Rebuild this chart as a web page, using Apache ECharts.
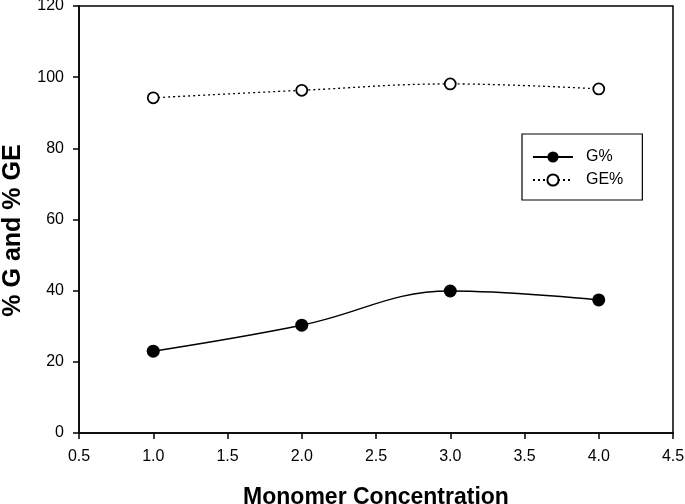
<!DOCTYPE html>
<html>
<head>
<meta charset="utf-8">
<script src="https://cdn.jsdelivr.net/npm/echarts@6/dist/echarts.min.js"></script>
<style>html,body{margin:0;padding:0;background:#fff}#c{width:685px;height:504px}</style>
</head>
<body>
<div id="c"></div>
<script>
var concentration = [1.0, 2.0, 3.0, 4.0];
var gPercent = [23.0, 30.3, 39.9, 37.4];
var gePercent = [94.2, 96.3, 98.1, 96.7];
var seriesNames = ['G%', 'GE%'];
var xAxisName = 'Monomer Concentration';
var yAxisName = '% G and % GE';

function pairs(xs, ys) { return xs.map(function (x, i) { return [x, ys[i]]; }); }

var chart = echarts.init(document.getElementById('c'), null, { renderer: 'canvas' });
var font = 'Liberation Sans, Arial, sans-serif';
chart.setOption({
  animation: false,
  backgroundColor: '#fff',
  grid: { left: 79, right: 12, top: 6, bottom: 71, show: true, borderColor: '#000', borderWidth: 1.5, backgroundColor: 'transparent', containLabel: false, outerBoundsMode: 'none' },
  legend: {
    left: 522, top: 134, orient: 'vertical',
    borderColor: '#000', borderWidth: 1.2,
    padding: [15, 19, 12, 10],
    itemWidth: 40, itemHeight: 14, itemGap: 7,
    textStyle: { fontFamily: font, fontSize: 16, color: '#000', padding: [0, 0, 0, 8] },
    data: seriesNames
  },
  xAxis: {
    type: 'value', min: 0.5, max: 4.5, interval: 0.5,
    name: xAxisName, nameLocation: 'middle', nameGap: 53,
    nameTextStyle: { fontFamily: font, fontSize: 23, fontWeight: 'bold', color: '#000' },
    axisLine: { onZero: false, lineStyle: { color: '#000', width: 1.5 } },
    axisTick: { inside: false, length: 6, lineStyle: { color: '#000', width: 1.5 } },
    axisLabel: { margin: 16, fontFamily: font, fontSize: 16, color: '#000', formatter: function (v) { return v.toFixed(1); } },
    splitLine: { show: false }
  },
  yAxis: {
    type: 'value', min: 0, max: 120, interval: 20,
    name: yAxisName, nameLocation: 'middle', nameGap: 53, nameRotate: 90,
    nameTextStyle: { fontFamily: font, fontSize: 25, fontWeight: 'bold', color: '#000', padding: [0, 22, 0, 0] },
    axisLine: { show: true, onZero: false, lineStyle: { color: '#000', width: 1.5 } },
    axisTick: { show: true, inside: false, length: 6, lineStyle: { color: '#000', width: 1.5 } },
    axisLabel: { margin: 15, fontFamily: font, fontSize: 16, color: '#000' },
    splitLine: { show: false }
  },
  series: [
    {
      name: seriesNames[0], type: 'line', data: pairs(concentration, gPercent),
      smooth: 0.4, symbol: 'circle', symbolSize: 13,
      itemStyle: { color: '#000' },
      lineStyle: { color: '#000', width: 1.5 }
    },
    {
      name: seriesNames[1], type: 'line', data: pairs(concentration, gePercent),
      smooth: 0.4, symbol: 'circle', symbolSize: 11,
      itemStyle: { color: '#fff', borderColor: '#000', borderWidth: 1.8 },
      lineStyle: { color: '#000', width: 1.3, type: [2, 3] }
    }
  ]
});
</script>
</body>
</html>
